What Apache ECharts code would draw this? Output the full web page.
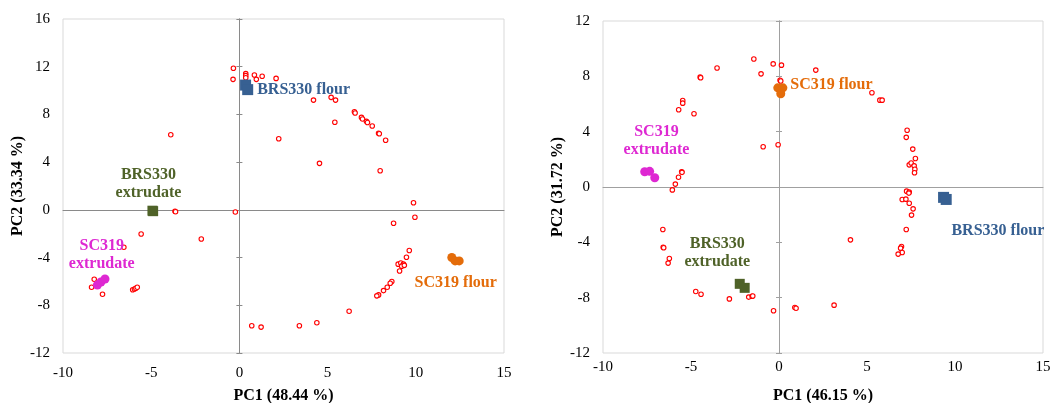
<!DOCTYPE html>
<html><head><meta charset="utf-8">
<script src="https://cdn.jsdelivr.net/npm/echarts@6/dist/echarts.min.js"></script>
<style>html,body{margin:0;padding:0;background:#fff}#c{width:1051px;height:403px}</style>
</head><body><div id="c"></div><script>
// ---- Data (PC1, PC2) ----
const xTicks = [-10, -5, 0, 5, 10, 15];
const leftYTicks = [-12, -8, -4, 0, 4, 8, 12, 16];
const rightYTicks = [-12, -8, -4, 0, 4, 8, 12];
const leftTitles = ['PC1 (48.44 %)', 'PC2 (33.34 %)'];
const rightTitles = ['PC1 (46.15 %)', 'PC2 (31.72 %)'];

const leftVars = [[-0.34,11.87],[-0.36,10.94],[0.36,11.42],[0.36,11.25],[0.36,11.08],[0.85,11.3],[0.96,10.94],[1.29,11.2],[2.08,11.02],[4.2,9.2],[5.2,9.43],[5.45,9.2],[6.52,8.22],[6.56,8.12],[6.92,7.75],[6.98,7.62],[7.2,7.42],[7.26,7.32],[7.53,7.03],[7.89,6.42],[7.93,6.38],[8.29,5.83],[5.41,7.35],[2.23,5.96],[-3.89,6.3],[4.54,3.9],[7.98,3.28],
  [9.87,0.6],[9.95,-0.62],[8.74,-1.12],[-3.65,-0.12],[-3.62,-0.16],[-0.23,-0.18],[-5.57,-2.03],[-2.16,-2.44],[-6.55,-3.14],[9.63,-3.41],[9.47,-3.97],[9.0,-4.55],[9.15,-4.45],[9.3,-4.55],[9.2,-4.72],[9.35,-4.65],[9.08,-5.12],[8.64,-6.01],[8.55,-6.15],[8.38,-6.49],[8.17,-6.77],[7.89,-7.13],[7.79,-7.21],[6.22,-8.5],[0.7,-9.72],[1.23,-9.83],[3.4,-9.72],[4.39,-9.47],[-8.23,-5.82],[-8.38,-6.49],[-7.76,-7.07],[-6.05,-6.7],[-5.95,-6.63],[-5.87,-6.57],[-5.79,-6.49]];
const leftBRS330Flour = [[0.35,10.46],[0.47,10.08]];
const leftBRS330Extr = [[-4.93,-0.07],[-4.89,-0.11]];
const leftSC319Extr = [[-8.05,-6.3],[-7.85,-6.05],[-7.62,-5.8]];
const leftSC319Flour = [[12.04,-3.99],[12.23,-4.28],[12.46,-4.28]];

const rightVars = [[-1.43,9.25],[-0.33,8.9],[0.14,8.81],[-1.02,8.18],[-3.52,8.6],[-4.48,7.94],[-4.45,7.9],[2.09,8.45],[0.06,7.72],[0.1,7.66],[5.28,6.81],[5.73,6.28],[5.86,6.28],[-5.47,6.25],[-5.47,6.06],[-5.7,5.58],[-4.83,5.29],[-0.9,2.91],[-0.05,3.05],[7.28,4.1],[7.23,3.59],[7.6,2.74],[7.75,2.06],[7.4,1.6],[7.51,1.73],[7.68,1.53],[7.72,1.28],[7.7,1.03],[-5.53,1.1],[-5.51,1.06],[-5.71,0.7],[-5.89,0.21],[-6.06,-0.21],[7.25,-0.3],[7.4,-0.37],[7.38,-0.44],[7.0,-0.9],[7.21,-0.88],[7.4,-1.17],[7.62,-1.58],[7.53,-2.03],[7.23,-3.07],[6.96,-4.3],[6.91,-4.42],[7.0,-4.73],[6.77,-4.85],[4.06,-3.82],[-6.6,-3.07],[-6.58,-4.35],[-6.55,-4.39],[-6.23,-5.17],[-6.3,-5.5],[-4.73,-7.55],[-4.43,-7.75],[-2.82,-8.09],[-1.72,-7.96],[-1.53,-7.9],[-1.49,-7.88],[-0.31,-8.95],[0.9,-8.71],[0.97,-8.76],[3.13,-8.54]];
const rightSC319Flour = [[-0.07,7.17],[0.22,7.17],[0.1,6.74]];
const rightSC319Extr = [[-7.63,1.1],[-7.35,1.13],[-7.06,0.67]];
const rightBRS330Extr = [[-2.23,-7.0],[-1.95,-7.29]];
const rightBRS330Flour = [[9.35,-0.75],[9.5,-0.9]];

// ---- Styles ----
const FONT = 'Liberation Serif';
const C = {blue:'#376092', green:'#4F6228', magenta:'#DE28D2', orange:'#E46C0A', red:'#FF0000'};

function lab(text, color, extra) {
  return Object.assign({show:true, formatter:text, color:color, fontFamily:FONT, fontWeight:'bold', fontSize:16, lineHeight:18, align:'center'}, extra);
}
function withLabel(arr, idx, label) {
  return arr.map((p, i) => i === idx ? {value:p, label:label} : p);
}

function xAxes(gi, yIdx, title, labelMargin, nameGap, zeroColor) {
  return [
    {gridIndex:gi, type:'value', min:xTicks[0], max:xTicks[xTicks.length-1], interval:5, position:'bottom',
     axisLine:{show:false, onZero:false}, axisTick:{show:false}, splitLine:{show:false},
     axisLabel:{margin:labelMargin, fontFamily:FONT, fontSize:15, color:'#000'},
     name:title, nameLocation:'middle', nameGap:nameGap,
     nameTextStyle:{fontFamily:FONT, fontWeight:'bold', fontSize:16, color:'#000'}},
    {gridIndex:gi, type:'value', min:xTicks[0], max:xTicks[xTicks.length-1], interval:5, position:'bottom',
     axisLine:{show:true, onZero:true, onZeroAxisIndex:yIdx, lineStyle:{color:zeroColor, width:1}},
     axisTick:{show:false}, axisLabel:{show:false}, splitLine:{show:false}}
  ];
}
function yAxes(gi, xIdx, ticks, title, nameGap, zeroColor) {
  const mn = ticks[0], mx = ticks[ticks.length-1];
  const zero = (inside) => ({gridIndex:gi, type:'value', min:mn, max:mx, interval:4, position:'left',
     axisLine:{show:true, onZero:true, onZeroAxisIndex:xIdx, lineStyle:{color:zeroColor, width:1}},
     axisTick:{show:true, inside:inside, length:3, lineStyle:{color:zeroColor, width:1}},
     axisLabel:{show:false}, splitLine:{show:false}});
  return [
    {gridIndex:gi, type:'value', min:mn, max:mx, interval:4, position:'left',
     axisLine:{show:false, onZero:false}, axisTick:{show:false}, splitLine:{show:false},
     axisLabel:{margin:13, fontFamily:FONT, fontSize:15, color:'#000'},
     name:title, nameLocation:'middle', nameGap:nameGap,
     nameTextStyle:{fontFamily:FONT, fontWeight:'bold', fontSize:16, color:'#000'}},
    zero(false), zero(true)
  ];
}

function varSeries(data, xi, yi) {
  return {type:'scatter', xAxisIndex:xi, yAxisIndex:yi, data:data, symbol:'circle', symbolSize:4.5,
    itemStyle:{color:'#fff', borderColor:C.red, borderWidth:1.1, opacity:1}, silent:true, z:3};
}
function grpSeries(data, xi, yi, symbol, size, color) {
  return {type:'scatter', xAxisIndex:xi, yAxisIndex:yi, data:data, symbol:symbol, symbolSize:size,
    itemStyle:{color:color, opacity:1}, silent:true, z:4};
}

const chart = echarts.init(document.getElementById('c'), null, {renderer:'canvas'});
chart.setOption({
  animation:false,
  backgroundColor:'#fff',
  grid:[
    {left:63, top:19, width:441, height:334, show:true, borderColor:'#d9d9d9', borderWidth:1, containLabel:false, outerBoundsMode:'none'},
    {left:603, top:21, width:440, height:332, show:true, borderColor:'#d9d9d9', borderWidth:1, containLabel:false, outerBoundsMode:'none'}
  ],
  xAxis:[].concat(xAxes(0, 0, leftTitles[0], 13, 35, '#8a8a8a'), xAxes(1, 3, rightTitles[0], 7, 35, '#a0a0a0')),
  yAxis:[].concat(yAxes(0, 0, leftYTicks, leftTitles[1], 36, '#8a8a8a'), yAxes(1, 2, rightYTicks, rightTitles[1], 37, '#a0a0a0')),
  series:[
    varSeries(leftVars, 0, 0),
    grpSeries(withLabel(leftBRS330Flour, 1, lab('BRS330 flour', C.blue, {position:'right', distance:4, align:'left'})), 0, 0, 'rect', 11, C.blue),
    grpSeries(withLabel(leftBRS330Extr, 1, lab('BRS330\nextrudate', C.green, {position:'inside', offset:[-4.7,-27]})), 0, 0, 'rect', 10, C.green),
    grpSeries(withLabel(leftSC319Extr, 1, lab('SC319\nextrudate', C.magenta, {position:'inside', offset:[0.8,-27.6]})), 0, 0, 'circle', 9, C.magenta),
    grpSeries(withLabel(leftSC319Flour, 1, lab('SC319 flour', C.orange, {position:'inside', offset:[0.6,21.7]})), 0, 0, 'circle', 9, C.orange),

    varSeries(rightVars, 2, 3),
    grpSeries(withLabel(rightSC319Flour, 1, lab('SC319 flour', C.orange, {position:'right', distance:3, align:'left', offset:[0,-3]})), 2, 3, 'circle', 9, C.orange),
    grpSeries(withLabel(rightSC319Extr, 1, lab('SC319\nextrudate', C.magenta, {position:'inside', offset:[6.8,-31]})), 2, 3, 'circle', 9, C.magenta),
    grpSeries(withLabel(rightBRS330Extr, 1, lab('BRS330\nextrudate', C.green, {position:'inside', offset:[-27.4,-35.3]})), 2, 3, 'rect', 10, C.green),
    grpSeries(withLabel(rightBRS330Flour, 1, lab('BRS330 flour', C.blue, {position:'inside', offset:[51.7,31.4]})), 2, 3, 'rect', 11, C.blue)
  ]
});
</script></body></html>
